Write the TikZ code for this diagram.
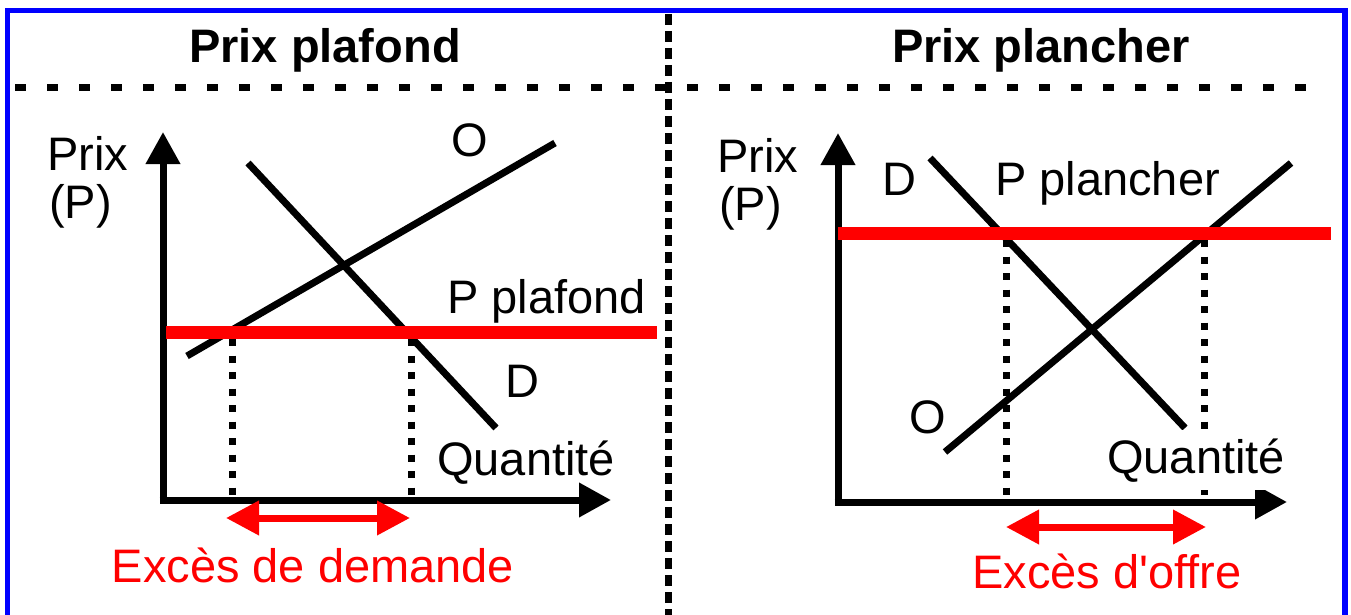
\documentclass[tikz,border=0pt]{standalone}
\usepackage{fontspec}
\setmainfont{Liberation Sans}
\usetikzlibrary{arrows.meta}
\definecolor{frameblue}{RGB}{0,0,255}
\definecolor{pred}{RGB}{255,0,0}
\begin{document}
\begin{tikzpicture}[x=1pt,y=-1pt,
  lbl/.style={inner sep=0pt,anchor=base west,font=\fontsize{47}{56}\selectfont},
  ttl/.style={inner sep=0pt,anchor=base,font=\fontsize{47}{56}\selectfont\bfseries},
  redlbl/.style={inner sep=0pt,anchor=base,text=pred,font=\fontsize{47}{56}\selectfont},
  axis/.style={line width=7pt,-{Triangle[length=32pt,width=33pt]}},
  curve/.style={line width=7pt},
  pline/.style={line width=13pt,draw=pred},
  dotline/.style={line width=7pt,dash pattern=on 7pt off 9.5pt},
  excess/.style={line width=7pt,draw=pred,{Triangle[length=33pt,width=33pt]}-{Triangle[length=33pt,width=33pt]}},
  sep/.style={line width=7pt}]
\useasboundingbox (0,0) rectangle (1351,615);
% frame
\coordinate (fbl) at (7.5,625);
\coordinate (ftl) at (7.5,10.5);
\coordinate (ftr) at (1345,10.5);
\coordinate (fbr) at (1345,625);
\draw[line width=5.5pt,frameblue] (fbl) -- (ftl) -- (ftr) -- (fbr);
% separators
\coordinate (hs1) at (15,88);
\coordinate (hs2) at (1312,88);
\draw[sep,dash pattern=on 11pt off 21pt] (hs1) -- (hs2);
\coordinate (vs1) at (668,14);
\coordinate (vs2) at (668,615);
\draw[sep,dash pattern=on 11pt off 6pt] (vs1) -- (vs2);
% titles
\node[ttl] (t1) at (325,63) {Prix plafond};
\node[ttl] (t2) at (1041,63) {Prix plancher};

% ---------- left chart ----------
\coordinate (lO) at (163,500);
\coordinate (lY) at (163,132);
\coordinate (lX) at (611,500);
\draw[axis] (lO) -- (lY);
\draw[axis] ([xshift=-3.5pt]lO) -- (lX);
\coordinate (lO1) at (187,356);
\coordinate (lO2) at (555,143);
\draw[curve] (lO1) -- (lO2);
\coordinate (lD1) at (248,163);
\coordinate (lD2) at (496,428);
\draw[curve] (lD1) -- (lD2);
\coordinate (lP1) at (166,332);
\coordinate (lP2) at (657,332);
\draw[pline] (lP1) -- (lP2);
\coordinate (ld1a) at (232,339);
\coordinate (ld1b) at (232,498);
\coordinate (ld2a) at (411,339);
\coordinate (ld2b) at (411,498);
\draw[dotline] (ld1a) -- (ld1b);
\draw[dotline] (ld2a) -- (ld2b);
\coordinate (le1) at (226,518);
\coordinate (le2) at (410,518);
\draw[excess] (le1) -- (le2);
\node[lbl] (lprix) at (47,170) {Prix};
\node[lbl] (lp) at (49,218) {(P)};
\node[lbl,anchor=base] (lolab) at (470,157) {O};
\node[lbl] (lplaf) at (447,313) {P plafond};
\node[lbl] (ldlab) at (505,397) {D};
\node[lbl] (lq) at (437,475) {Quantité};
\node[redlbl] (lex) at (313,582) {Excès de demande};

% ---------- right chart ----------
\coordinate (rO) at (838,502);
\coordinate (rY) at (838,133);
\coordinate (rX) at (1287,502);
\draw[axis] (rO) -- (rY);
\draw[axis] ([xshift=-3.5pt]rO) -- (rX);
\coordinate (rD1) at (930,158);
\coordinate (rD2) at (1185,428);
\draw[curve] (rD1) -- (rD2);
\coordinate (rO1) at (945,452);
\coordinate (rO2) at (1291,163);
\draw[curve] (rO1) -- (rO2);
\coordinate (rP1) at (838,233);
\coordinate (rP2) at (1331,233);
\draw[pline] (rP1) -- (rP2);
\coordinate (rd1a) at (1006,240);
\coordinate (rd1b) at (1006,500);
\coordinate (rd2a) at (1204,240);
\coordinate (rd2b) at (1204,500);
\draw[dotline] (rd1a) -- (rd1b);
\draw[dotline] (rd2a) -- (rd2b);
\coordinate (re1) at (1006,527);
\coordinate (re2) at (1206,527);
\draw[excess] (re1) -- (re2);
\node[lbl] (rprix) at (717,172) {Prix};
\node[lbl] (rp) at (719,220) {(P)};
\node[lbl] (rdlab) at (882,195) {D};
\node[lbl] (rplan) at (995,195) {P plancher};
\node[lbl,anchor=base] (rolab) at (928,433) {O};
\node[lbl,fill=white,inner ysep=8pt] (rq) at (1107,473) {Quantité};
\node[redlbl] (rex) at (1107,588) {Excès d\textquotesingle offre};
\end{tikzpicture}
\end{document}
